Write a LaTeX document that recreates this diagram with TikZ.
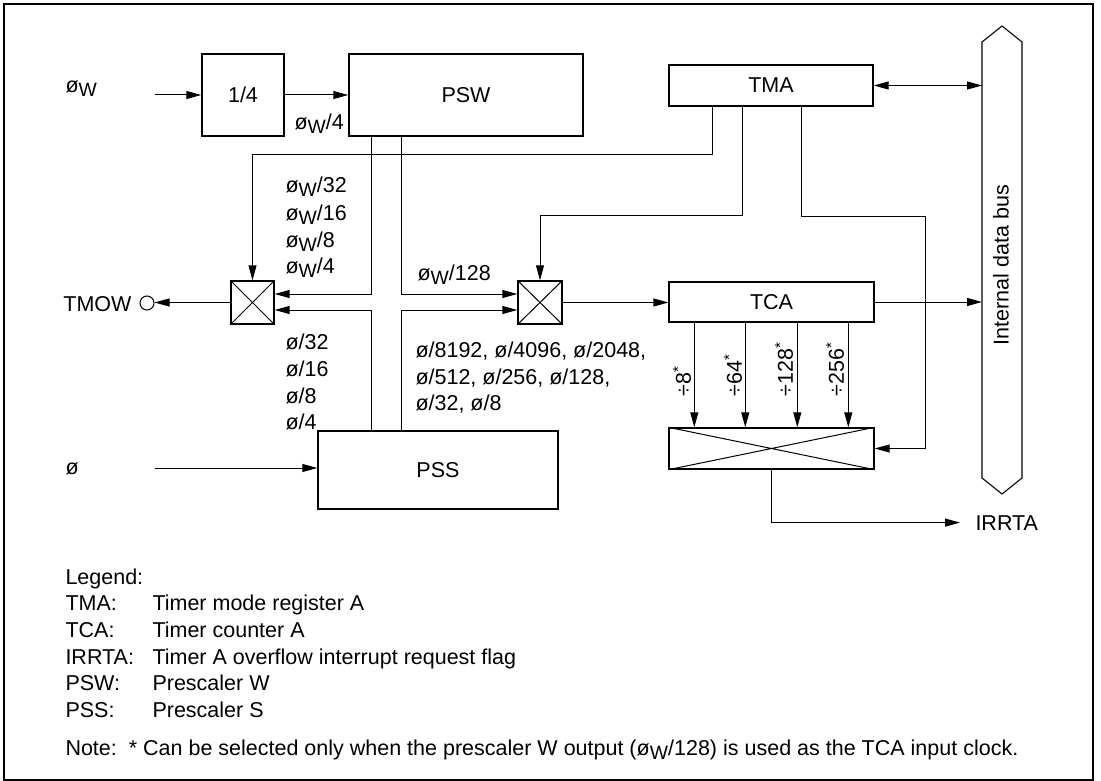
\documentclass[tikz,border=0pt]{standalone}
\usepackage{fontspec}
\setmainfont{Liberation Sans}
\usetikzlibrary{arrows.meta}
\newcommand\sw{\raisebox{-4pt}{\scalebox{0.9}{W}}}
\begin{document}
\begin{tikzpicture}[x=1pt,y=-1pt,
  font=\fontsize{21.5}{26}\selectfont,
  line width=1pt,
  box/.style={draw, line width=1.4pt, inner sep=0pt},
  arr/.style={-{Triangle[length=15pt,width=8pt]}},
  darr/.style={{Triangle[length=15pt,width=8pt]}-{Triangle[length=15pt,width=8pt]}},
  lbl/.style={anchor=base west, inner sep=0pt},
  rlbl/.style={rotate=90, anchor=west, inner sep=0pt},
]
\useasboundingbox (0,0) rectangle (1101,781);
\draw[line width=1.4pt] (4,4) rectangle (1093,780);

% blocks
\node[box, minimum width=82pt, minimum height=82pt] (div4) at (243,95) {1/4};
\node[box, minimum width=234pt, minimum height=82pt] (psw) at (466,95) {PSW};
\node[box, minimum width=204pt, minimum height=41pt] (tma) at (771,85.5) {TMA};
\node[box, minimum width=43pt, minimum height=43pt] (sel1) at (252.5,302.5) {};
\node[box, minimum width=44pt, minimum height=43pt] (sel2) at (540,302.5) {};
\node[box, minimum width=205pt, minimum height=40pt] (tca) at (771.5,302) {TCA};
\node[box, minimum width=205pt, minimum height=41pt] (ovf) at (771.5,448.5) {};
\node[box, minimum width=240pt, minimum height=78pt] (pss) at (438,470) {PSS};
\draw[line width=1pt] (sel1.north west) -- (sel1.south east) (sel1.north east) -- (sel1.south west);
\draw[line width=1pt] (sel2.north west) -- (sel2.south east) (sel2.north east) -- (sel2.south west);
\draw[line width=1pt] (ovf.north west) -- (ovf.south east) (ovf.north east) -- (ovf.south west);

% bus
\draw[line width=1.1pt] (982,42) -- (1002,26) -- (1022,42) -- (1022,478) -- (1002,494) -- (982,478) -- cycle;
\node[rotate=90, inner sep=0pt] (bus) at (1001,265) {Internal data bus};
\coordinate (busW) at (982,265);

% inputs
\node[lbl] (phiwin) at (65,93) {ø\sw};
\coordinate (inW) at (155,95);
\draw[arr] (inW) -- (div4.west);
\draw[arr] (div4.east) -- (psw.west);
\node[lbl] (phiw4) at (294,130) {ø\sw/4};

\node[lbl] (phiin) at (65,474) {ø};
\coordinate (inS) at (155,468);
\draw[arr] (inS) -- (inS -| pss.west);

% TMOW output
\node[circle, draw, minimum size=14pt, inner sep=0pt, line width=1pt] (tmowc) at (147,303) {};
\node[anchor=base east, inner sep=0pt] (tmow) at (132,311) {TMOW};
\draw[arr] (sel1.west) -- (sel1.west -| tmowc.east);

% prescaler outputs to selectors
\draw[arr] ([xshift=23pt]psw.south west) |- ([yshift=8.5pt]sel1.east);
\draw[arr] ([xshift=53pt]psw.south west) |- ([yshift=8.5pt]sel2.west);
\draw[arr] ([xshift=54pt]pss.north west) |- ([yshift=-7.5pt]sel1.east);
\draw[arr] ([xshift=84pt]pss.north west) |- ([yshift=-7.5pt]sel2.west);

% TMA control lines
\draw[arr] ([xshift=44pt]tma.south west) -- ++(0,48) -| (sel1.north);
\draw[arr] ([xshift=74pt]tma.south west) -- ++(0,109) -| (sel2.north);
\draw[arr] ([xshift=133pt]tma.south west) -- ++(0,110) -- ++(124,0) |- (ovf.east);

% bus connections
\draw[darr] (tma.east) -- (tma.east -| busW);
\draw[arr] (tca.east) -- (tca.east -| busW);

% selector 2 to TCA
\draw[arr] (sel2.east) -- (sel2.east -| tca.west);

% TCA to overflow selector
\foreach \dx in {26,77,129,180}
  \draw[arr] ([xshift=\dx pt]tca.south west) -- ([xshift=\dx pt]ovf.north west);
\node[rlbl] (d8) at (682,397) {÷8\textsuperscript{*}};
\node[rlbl] (d64) at (733,397) {÷64\textsuperscript{*}};
\node[rlbl] (d128) at (784,397) {÷128\textsuperscript{*}};
\node[rlbl] (d256) at (835,397) {÷256\textsuperscript{*}};

% IRRTA
\node[anchor=base west, inner sep=0pt] (irrta) at (975,530) {IRRTA};
\draw[arr] (ovf.south) |- ([xshift=-15pt]irrta.west);

% clock labels
\node[lbl] (lw32) at (285,193) {ø\sw/32};
\node[lbl] (lw16) at (285,220) {ø\sw/16};
\node[lbl] (lw8) at (285,247) {ø\sw/8};
\node[lbl] (lw4) at (285,273) {ø\sw/4};
\node[lbl] (ls32) at (285,349) {ø/32};
\node[lbl] (ls16) at (285,376) {ø/16};
\node[lbl] (ls8) at (285,403) {ø/8};
\node[lbl] (ls4) at (285,429) {ø/4};
\node[lbl] (lw128) at (417,280) {ø\sw/128};
\node[lbl] (lsa) at (415,357) {ø/8192, ø/4096, ø/2048,};
\node[lbl] (lsb) at (415,384) {ø/512, ø/256, ø/128,};
\node[lbl] (lsc) at (415,410) {ø/32, ø/8};

% legend
\node[lbl] (leg) at (65,584) {Legend:};
\node[lbl] (k1) at (65,610) {TMA:};
\node[lbl] (v1) at (152,610) {Timer mode register A};
\node[lbl] (k2) at (65,637) {TCA:};
\node[lbl] (v2) at (152,637) {Timer counter A};
\node[lbl] (k3) at (65,664) {IRRTA:};
\node[lbl] (v3) at (152,664) {Timer A overflow interrupt request flag};
\node[lbl] (k4) at (65,690) {PSW:};
\node[lbl] (v4) at (152,690) {Prescaler W};
\node[lbl] (k5) at (65,717) {PSS:};
\node[lbl] (v5) at (152,717) {Prescaler S};
\node[lbl] (note) at (65,755) {Note:\ \ * Can be selected only when the prescaler W output (ø\sw/128) is used as the TCA input clock.};
\end{tikzpicture}
\end{document}
